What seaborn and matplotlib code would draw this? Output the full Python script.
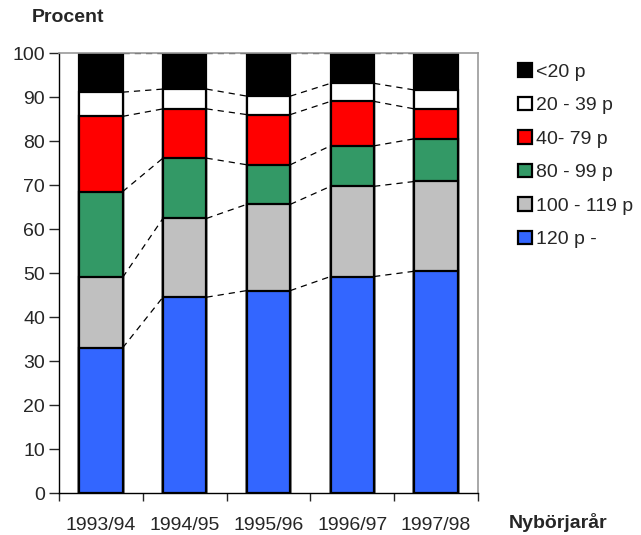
import matplotlib
matplotlib.use("Agg")
import matplotlib.pyplot as plt
from matplotlib.patches import Patch
import seaborn as sns
import pandas as pd
import numpy as np

years = ["1993/94", "1994/95", "1995/96", "1996/97", "1997/98"]
series_names = ["120 p -", "100 - 119 p", "80 - 99 p", "40- 79 p", "20 - 39 p", "<20 p"]
v_120 = [33.0, 44.5, 46.0, 49.2, 50.4]
v_100 = [16.0, 17.9, 19.6, 20.5, 20.4]
v_80 = [19.5, 13.7, 9.0, 9.2, 9.7]
v_40 = [17.1, 11.2, 11.4, 10.1, 6.8]
v_20 = [5.5, 4.5, 4.2, 4.1, 4.3]
v_lt20 = [8.9, 8.2, 9.8, 6.9, 8.4]
colors = ["#3366FF", "#C0C0C0", "#339966", "#FF0000", "#FFFFFF", "#000000"]

sns.set_style("white")
plt.rcParams['font.family'] = ['Liberation Sans', 'DejaVu Sans']
FS = 14

fig = plt.figure(figsize=(6.41, 5.35), dpi=100)
ax = fig.add_axes([59/641, 42/535, 419/641, 440/535])

values = [v_120, v_100, v_80, v_40, v_20, v_lt20]
cum = np.cumsum(np.array(values), axis=0)
width = 0.52

# draw cumulative layers, tallest first
for k in range(len(series_names) - 1, -1, -1):
    d = pd.DataFrame({"year": years, "val": cum[k]})
    sns.barplot(data=d, x="year", y="val", color=colors[k], width=width,
                edgecolor="black", linewidth=1.6, saturation=1, ax=ax, zorder=2)

# dashed series lines between bars
for k in range(len(series_names)):
    for i in range(len(years) - 1):
        ax.plot([i + width/2, i + 1 - width/2], [cum[k][i], cum[k][i+1]],
                color="black", lw=0.9, ls=(0, (5, 4)), zorder=1)

ax.set_xlim(-0.5, len(years) - 0.5)
ax.set_ylim(0, 100)
ax.set_yticks(range(0, 101, 10))
ax.set_xticks(range(len(years)))
ax.set_xticklabels(years, fontsize=FS)
ax.tick_params(axis="y", labelsize=FS, direction="out", length=7, width=1, left=True, pad=3)
ax.tick_params(axis="x", length=0, pad=17)
# ticks between categories
ax.set_xticks(np.arange(-0.5, len(years)), minor=True)
ax.tick_params(axis="x", which="minor", direction="out", length=6, width=1, bottom=True)
ax.set_xlabel("")
ax.set_ylabel("")
for s in ["top", "right"]:
    ax.spines[s].set_color("#999999")
    ax.spines[s].set_linewidth(1.2)
for s in ["left", "bottom"]:
    ax.spines[s].set_color("black")
    ax.spines[s].set_linewidth(1.0)

fig.text(32/641, 1 - 18/535, "Procent", fontsize=FS, fontweight="bold", ha="left", va="center")
fig.text(509/641, 1 - 523/535, "Nybörjarår", fontsize=FS, fontweight="bold", ha="left", va="center")

handles = [Patch(facecolor=colors[k], edgecolor="black", linewidth=1.6) for k in range(5, -1, -1)]
labels = [series_names[k] for k in range(5, -1, -1)]
fig.legend(handles, labels, loc="upper left", bbox_to_anchor=(518/641, 1 - 63/535),
           frameon=False, fontsize=FS, handlelength=0.7, handleheight=0.7,
           handletextpad=0.25, labelspacing=0.82, borderpad=0, borderaxespad=0)

fig.savefig("out.png", dpi=100)
